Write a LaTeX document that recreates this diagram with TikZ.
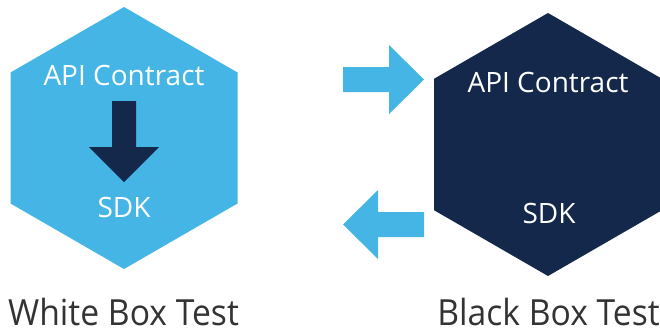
\documentclass[tikz,border=0pt]{standalone}
\usepackage{fontspec}
\setmainfont{Open Sans}
\definecolor{lb}{HTML}{45B5E6}
\definecolor{navy}{HTML}{13284A}
\definecolor{txt}{HTML}{333333}
\begin{document}
\begin{tikzpicture}[x=1pt,y=-1pt,
  hextxt/.style={text=white,font=\fontsize{28}{30}\selectfont,anchor=base,inner sep=0pt},
  captxt/.style={text=txt,font=\fontsize{36}{40}\selectfont,anchor=base,inner sep=0pt,text depth=0pt,xscale=0.935,transform shape}]
\useasboundingbox (0,0) rectangle (660,329);
% left hexagon
\fill[lb] (124,7) -- (237.5,72.5) -- (237.5,203.5) -- (124,269) -- (10.5,203.5) -- (10.5,72.5) -- cycle;
% right hexagon
\fill[navy] (548,13) -- (661.9,78.75) -- (661.9,210.25) -- (548,276) -- (434.1,210.25) -- (434.1,78.75) -- cycle;
% down arrow
\fill[navy] (112,101) -- (136,101) -- (136,147) -- (159,147) -- (124,182) -- (89,147) -- (112,147) -- cycle;
% right arrow
\fill[lb] (343,67) -- (389,67) -- (389,45) -- (424,79.5) -- (389,114) -- (389,92) -- (343,92) -- cycle;
% left arrow
\fill[lb] (424,212) -- (378,212) -- (378,190) -- (343,224.5) -- (378,259) -- (378,237) -- (424,237) -- cycle;
\node[hextxt] (wapi) at (124,85) {API Contract};
\node[hextxt] (wsdk) at (124,217) {SDK};
\node[hextxt] (bapi) at (548,92) {API Contract};
\node[hextxt] (bsdk) at (549,223) {SDK};
\node[captxt] (wbt) at (123.5,325) {White Box Test};
\node[captxt] (bbt) at (548.5,325) {Black Box Test};
\end{tikzpicture}
\end{document}
